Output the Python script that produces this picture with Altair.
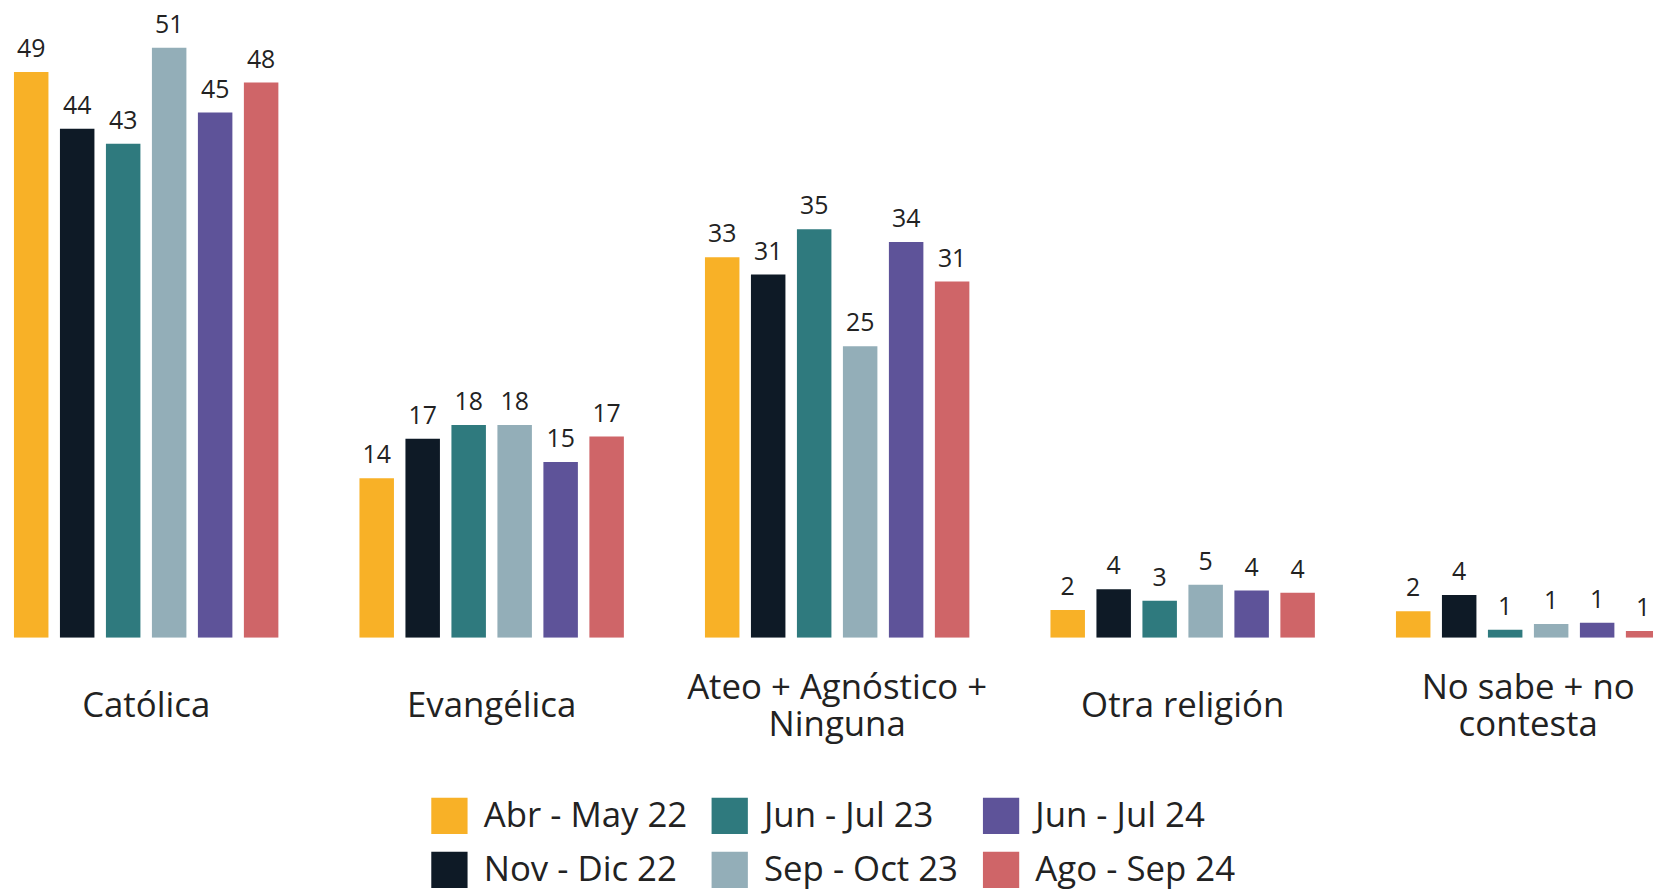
import altair as alt
import pandas as pd

categories = ["Católica", "Evangélica", "Ateo + Agnóstico + Ninguna", "Otra religión", "No sabe + no contesta"]
series = ["Abr - May 22", "Nov - Dic 22", "Jun - Jul 23", "Sep - Oct 23", "Jun - Jul 24", "Ago - Sep 24"]
colors = ["#F8B127", "#0E1A26", "#2F7A7E", "#93AEB8", "#5E5399", "#CF6568"]

catolica = [48.9, 44.0, 42.7, 51.0, 45.4, 48.0]
evangelica = [13.8, 17.2, 18.4, 18.4, 15.2, 17.4]
ateo = [32.9, 31.4, 35.3, 25.2, 34.2, 30.8]
otra = [2.4, 4.2, 3.2, 4.6, 4.1, 3.9]
nosabe = [2.3, 3.7, 0.7, 1.2, 1.3, 0.6]

label_lines = {
    "Ateo + Agnóstico + Ninguna": ["Ateo + Agnóstico +", "Ninguna"],
    "No sabe + no contesta": ["No sabe + no", "contesta"],
}

rows = []
for cat, vals in zip(categories, [catolica, evangelica, ateo, otra, nosabe]):
    for s, v in zip(series, vals):
        rows.append({"categoria": cat, "serie": s, "valor": v})
df = pd.DataFrame(rows)

# single-line labels sit on the middle "half line"; two-line labels use lines 1 and 3
ZW = "\u200b"
expr = f"['{ZW}', datum.value]"
for k, lines in label_lines.items():
    arr = "['" + lines[0] + f"', '{ZW}', '" + lines[1] + "']"
    expr = f"datum.value == '{k}' ? {arr} : ({expr})"

FONT = "Open Sans"
TXT = "#222222"

x_enc = alt.X(
    "categoria:N",
    sort=categories,
    title=None,
    scale=alt.Scale(paddingInner=0.2347, paddingOuter=0, range=[6, 1662.4]),
    axis=alt.Axis(
        domain=False, ticks=False, labelAngle=0, labelFontSize=35, labelFont=FONT,
        labelColor=TXT, labelBaseline="middle", labelLineHeight=18.6,
        labelPadding=50, labelLimit=0, labelExpr=expr,
    ),
)
xo_enc = alt.XOffset("serie:N", sort=series, scale=alt.Scale(paddingInner=0.25, paddingOuter=0))
y_enc = alt.Y("valor:Q", scale=alt.Scale(domain=[0, 54.2], nice=False), axis=None)

bars = alt.Chart(df).mark_bar(clip=True).encode(
    x=x_enc,
    xOffset=xo_enc,
    y=y_enc,
    color=alt.Color(
        "serie:N",
        scale=alt.Scale(domain=series, range=colors),
        legend=alt.Legend(
            title=None, orient="none", legendX=425.6, legendY=791.5, columns=3,
            symbolType="square", symbolSize=1332, symbolStrokeWidth=0,
            symbolOpacity=1, labelFontSize=35, labelFont=FONT, labelColor=TXT,
            labelOffset=16, rowPadding=17.5, columnPadding=24, labelLimit=0, padding=0,
        ),
    ),
)

labels = alt.Chart(df).mark_text(
    clip=True, baseline="alphabetic", dy=-15, fontSize=25, font=FONT, color=TXT
).encode(
    x=x_enc,
    xOffset=xo_enc,
    y=y_enc,
    text=alt.Text("valor:Q", format=".0f"),
)

chart = alt.layer(bars, labels).properties(
    width=1655, height=631,
    padding={"left": 0, "right": 0, "top": 0, "bottom": 0},
).configure_view(stroke=None)

chart.save("out.html", embed_options={"renderer": "svg", "actions": False})
